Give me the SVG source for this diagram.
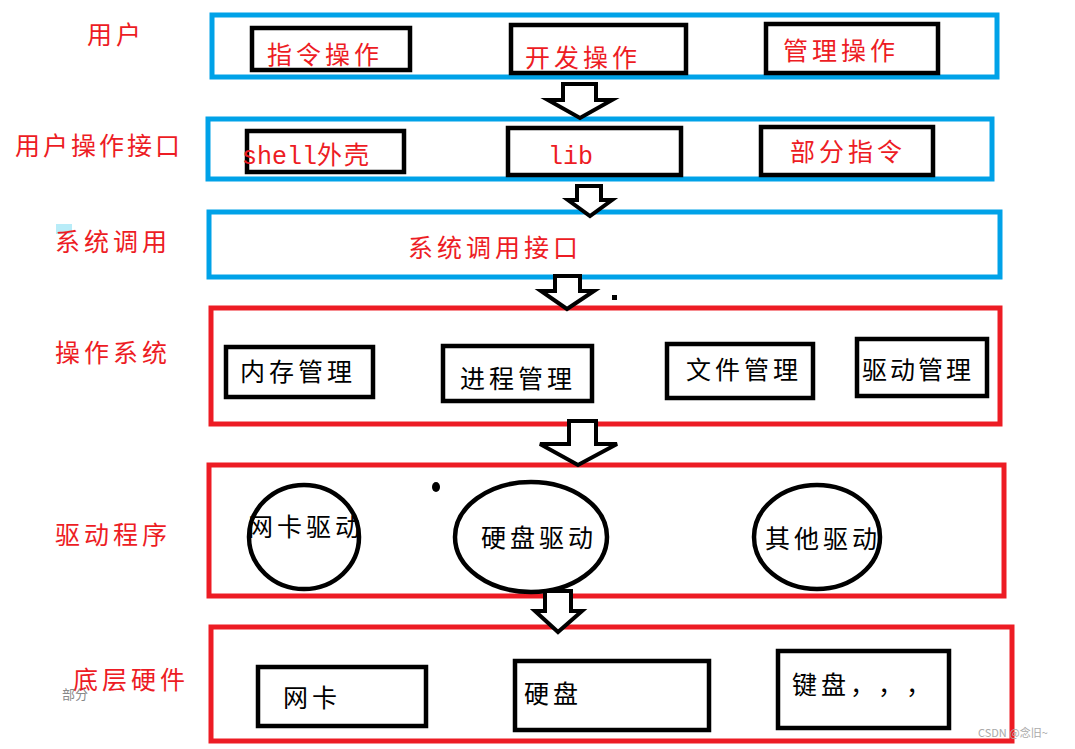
<svg xmlns="http://www.w3.org/2000/svg" width="1075" height="749" viewBox="0 0 1075 749">
<style>
.bg{fill:#fff}
.blue{fill:none;stroke:#00a2e8;stroke-width:5}
.red{fill:none;stroke:#ed1c24;stroke-width:5}
.blk{fill:none;stroke:#000;stroke-width:4.5}
.arr{fill:#fff;stroke:#000;stroke-width:4;stroke-linejoin:miter}
text{font-family:"Noto Sans CJK SC","Noto Sans",sans-serif;font-size:25px;letter-spacing:4px}
.rt{fill:#ed1c24}
.bt{fill:#000}
.mono{font-family:"Liberation Mono","Noto Sans CJK SC",monospace}
</style>
<rect class="bg" width="1075" height="749"/>
<g id="labels">
<text class="rt" x="87" y="44">用户</text>
<text class="rt" x="15" y="155" style="letter-spacing:3px">用户操作接口</text>
<rect x="56" y="224" width="16" height="10" fill="#b8ecf8"/>
<text class="rt" x="55" y="251">系统调用</text>
<text class="rt" x="55" y="362">操作系统</text>
<text class="rt" x="55" y="544">驱动程序</text>
<text class="rt" x="73" y="689">底层硬件</text>
<text x="62" y="699" style="font-size:13px;fill:#888;letter-spacing:0">部分</text>
</g>
<g id="layer-user">
<rect class="blue" x="212" y="15" width="785" height="62"/>
<g id="n-cmd"><rect class="blk" x="252" y="28" width="158" height="42"/><text class="rt" x="267" y="64">指令操作</text></g>
<g id="n-dev"><rect class="blk" x="511" y="25" width="175" height="48"/><text class="rt" x="525" y="67">开发操作</text></g>
<g id="n-mgmt"><rect class="blk" x="766" y="24" width="172" height="49"/><text class="rt" x="783" y="60">管理操作</text></g>
</g>
<g id="layer-uif">
<rect class="blue" x="208" y="119" width="784" height="60"/>
<g id="n-shell"><rect class="blk" x="247" y="131" width="157" height="41"/><text class="rt" x="242" y="164" style="letter-spacing:2px"><tspan class="mono" style="letter-spacing:0">shell</tspan>外壳</text></g>
<g id="n-lib"><rect class="blk" x="508" y="128" width="173" height="47"/><text class="rt mono" x="548" y="164" style="letter-spacing:0">lib</text></g>
<g id="n-part"><rect class="blk" x="761" y="127" width="172" height="48"/><text class="rt" x="790" y="161">部分指令</text></g>
</g>
<g id="layer-sys">
<rect class="blue" x="209" y="212" width="791" height="65"/>
<text class="rt" x="408" y="257">系统调用接口</text>
</g>
<g id="layer-os">
<rect class="red" x="211" y="308" width="789" height="116"/>
<g id="n-mem"><rect class="blk" x="226" y="347" width="147" height="50"/><text class="bt" x="240" y="381">内存管理</text></g>
<g id="n-proc"><rect class="blk" x="443" y="346" width="149" height="55"/><text class="bt" x="460" y="388">进程管理</text></g>
<g id="n-file"><rect class="blk" x="667" y="344" width="146" height="54"/><text class="bt" x="686" y="379">文件管理</text></g>
<g id="n-drv"><rect class="blk" x="857" y="339" width="130" height="57"/><text class="bt" x="862" y="379" style="letter-spacing:3px">驱动管理</text></g>
</g>
<g id="layer-driver">
<rect class="red" x="209" y="465" width="795" height="131"/>
<g id="n-nicdrv"><ellipse class="blk" cx="304" cy="537" rx="55" ry="52"/><text class="bt" x="248" y="536">网卡驱动</text></g>
<g id="n-hdddrv"><ellipse class="blk" cx="531" cy="537" rx="76" ry="55"/><text class="bt" x="481" y="547">硬盘驱动</text></g>
<g id="n-othdrv"><ellipse class="blk" cx="817" cy="537" rx="63" ry="52"/><text class="bt" x="765" y="548">其他驱动</text></g>
<ellipse cx="436" cy="487" rx="4" ry="5" fill="#000"/>
</g>
<g id="layer-hw">
<rect class="red" x="211" y="627" width="801" height="114"/>
<g id="n-nic"><rect class="blk" x="258" y="667" width="168" height="59"/><text class="bt" x="283" y="707">网卡</text></g>
<g id="n-hdd"><rect class="blk" x="515" y="661" width="194" height="69"/><text class="bt" x="524" y="703">硬盘</text></g>
<g id="n-kbd"><rect class="blk" x="778" y="651" width="171" height="77"/><text class="bt" x="792" y="694">键盘<tspan x="850">，</tspan><tspan x="878">，</tspan><tspan x="906">，</tspan></text></g>
</g>
<g id="connectors">
<polygon class="arr" points="563,84 596,84 596,100 612,100 580,118 548,100 563,100"/>
<polygon class="arr" points="577,186 601,186 601,200 612,200 590,216 568,200 577,200"/>
<polygon class="arr" points="555,276 580,276 580,291 594,291 567,309 541,291 555,291"/>
<polygon class="arr" points="569,421 596,421 596,444 617,444 578,465 540,444 569,444"/>
<polygon class="arr" points="545,591 571,591 571,611 582,611 558,632 535,611 545,611"/>
<rect x="612" y="295" width="5" height="5" fill="#000"/>
</g>
<text x="978" y="737" style="font-size:11px;fill:#aaa;letter-spacing:0">CSDN @念旧~</text>
</svg>
